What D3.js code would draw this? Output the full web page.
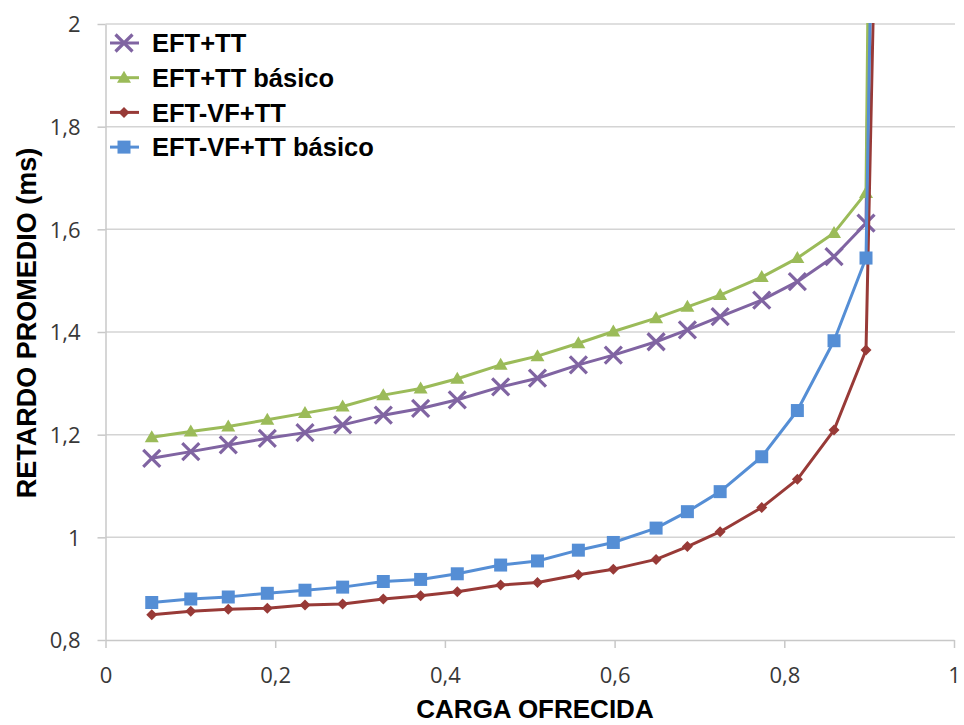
<!DOCTYPE html>
<html lang="es">
<head>
<meta charset="UTF-8">
<title>Retardo promedio vs carga ofrecida</title>
<script src="https://cdnjs.cloudflare.com/ajax/libs/d3/7.8.5/d3.min.js"></script>
<style>
    body { margin: 0; background: #fff; }
    svg { display: block; font-family: "Liberation Sans", Arial, sans-serif; }
    .axis text { font-family: "Open Sans", sans-serif; font-size: 22px; fill: #383838; }
    .axis path, .axis line { stroke: #c8c8c8; stroke-width: 1.5; }
</style>
</head>
<body>
<script>
// carga ofrecida (eje x), el último punto se sale del gráfico
var carga = [0.0545, 0.1005, 0.1447, 0.1907, 0.2351, 0.2795, 0.3274, 0.3714, 0.4146, 0.4657,
             0.5091, 0.5573, 0.5985, 0.6489, 0.6858, 0.7244, 0.7734, 0.8154, 0.8586, 0.8963, 0.91];

var eftTT = [1.154, 1.167, 1.180, 1.193, 1.204, 1.219, 1.238, 1.251, 1.268, 1.293,
             1.310, 1.336, 1.355, 1.381, 1.404, 1.430, 1.462, 1.498, 1.547, 1.612, 3.3];
var eftTTBasico = [1.195, 1.206, 1.216, 1.229, 1.242, 1.255, 1.277, 1.290, 1.309, 1.336,
             1.353, 1.378, 1.401, 1.427, 1.449, 1.472, 1.507, 1.544, 1.593, 1.671, 3.88];
var eftVfTT = [0.849, 0.856, 0.860, 0.862, 0.868, 0.870, 0.880, 0.886, 0.894, 0.907,
             0.912, 0.927, 0.938, 0.957, 0.982, 1.011, 1.058, 1.113, 1.209, 1.365, 2.42];
var eftVfTTBasico = [0.873, 0.880, 0.884, 0.891, 0.897, 0.903, 0.914, 0.918, 0.929, 0.946,
             0.954, 0.975, 0.990, 1.018, 1.050, 1.089, 1.157, 1.247, 1.383, 1.544, 2.87];

var nombres = ['EFT+TT', 'EFT+TT básico', 'EFT-VF+TT', 'EFT-VF+TT básico'];
var xTicks = [0, 0.2, 0.4, 0.6, 0.8, 1];
var yTicks = [0.8, 1, 1.2, 1.4, 1.6, 1.8, 2];

var series = [
    { name: nombres[0], values: eftTT, color: '#8064a2', marker: 'x' },
    { name: nombres[1], values: eftTTBasico, color: '#9bbb59', marker: 'triangle' },
    { name: nombres[2], values: eftVfTT, color: '#983a37', marker: 'diamond' },
    { name: nombres[3], values: eftVfTTBasico, color: '#558ed5', marker: 'square' }
];

var W = 964, H = 725;
var plotLeft = 105.5, plotRight = 954, plotTop = 24, plotBottom = 640;

var x = d3.scaleLinear().domain([0, 1]).range([plotLeft, plotRight]);
var y = d3.scaleLinear().domain([0.8, 2]).range([plotBottom, plotTop]);

function fmt(v) { return d3.format('~g')(v).replace('.', ','); }

// marcadores
function markerPath(type) {
    if (type === 'x') {
        var s = 8.5;
        return 'M' + -s + ',' + -s + 'L' + s + ',' + s + 'M' + -s + ',' + s + 'L' + s + ',' + -s;
    }
    if (type === 'triangle') return 'M0,-7L7,5L-7,5Z';
    if (type === 'diamond') return 'M0,-5.5L5.5,0L0,5.5L-5.5,0Z';
    return 'M-6.5,-6.5H6.5V6.5H-6.5Z';
}
function drawMarker(g, type, color) {
    var p = g.append('path').attr('d', markerPath(type));
    if (type === 'x') {
        p.attr('fill', 'none').attr('stroke', color).attr('stroke-width', 3.2);
    } else {
        p.attr('fill', color);
    }
}

var svg = d3.select('body').append('svg')
    .attr('width', W)
    .attr('height', H);

svg.append('defs').append('clipPath').attr('id', 'plot')
    .append('rect')
    .attr('x', plotLeft).attr('y', plotTop - 1)
    .attr('width', plotRight - plotLeft + 2).attr('height', plotBottom - plotTop + 1);

// líneas de división horizontales
svg.append('g')
    .selectAll('line')
    .data(yTicks.slice(1))
    .enter()
    .append('line')
    .attr('x1', plotLeft)
    .attr('x2', plotRight + 1)
    .attr('y1', function (d) { return y(d); })
    .attr('y2', function (d) { return y(d); })
    .attr('stroke', '#d4d4d4')
    .attr('stroke-width', 1.5);

// ejes
svg.append('g')
    .attr('class', 'axis')
    .attr('transform', 'translate(0,' + plotBottom + ')')
    .call(d3.axisBottom(x).tickValues(xTicks).tickFormat(fmt).tickSizeInner(8).tickSizeOuter(0))
    .selectAll('text')
    .attr('y', 43)
    .attr('dy', 0);

svg.append('g')
    .attr('class', 'axis')
    .attr('transform', 'translate(' + plotLeft + ',0)')
    .call(d3.axisLeft(y).tickValues(yTicks).tickFormat(fmt).tickSizeInner(8).tickSizeOuter(0).tickPadding(17))
    .selectAll('text')
    .attr('dy', '0.36em');

// series
var line = d3.line()
    .x(function (d, i) { return x(carga[i]); })
    .y(function (d) { return y(d); });

var plot = svg.append('g').attr('clip-path', 'url(#plot)');

series.forEach(function (s) {
    var g = plot.append('g');
    g.append('path')
        .datum(s.values)
        .attr('d', line)
        .attr('fill', 'none')
        .attr('stroke', s.color)
        .attr('stroke-width', 3)
        .attr('stroke-linejoin', 'round');
    g.selectAll('.pt')
        .data(s.values)
        .enter()
        .append('g')
        .attr('class', 'pt')
        .attr('transform', function (d, i) { return 'translate(' + x(carga[i]) + ',' + y(d) + ')'; })
        .each(function () { drawMarker(d3.select(this), s.marker, s.color); });
});

// leyenda
var legend = svg.append('g')
    .selectAll('g')
    .data(series)
    .enter()
    .append('g')
    .attr('transform', function (d, i) { return 'translate(124,' + (43 + i * 34.7) + ')'; });

legend.append('line')
    .attr('x1', -14).attr('x2', 15)
    .attr('stroke', function (d) { return d.color; })
    .attr('stroke-width', 3);
legend.each(function (d) { drawMarker(d3.select(this), d.marker, d.color); });
legend.append('text')
    .attr('x', 28)
    .attr('dy', '0.36em')
    .style('font-size', '25.5px')
    .style('font-weight', 'bold')
    .attr('fill', '#000')
    .text(function (d) { return d.name; });

// títulos de los ejes
svg.append('text')
    .attr('x', 535)
    .attr('y', 718)
    .attr('text-anchor', 'middle')
    .style('font-size', '26px')
    .style('font-weight', 'bold')
    .text('CARGA OFRECIDA');

svg.append('text')
    .attr('transform', 'translate(36,323) rotate(-90)')
    .attr('text-anchor', 'middle')
    .style('font-size', '27px')
    .style('font-weight', 'bold')
    .text('RETARDO PROMEDIO (ms)');
</script>
</body>
</html>
